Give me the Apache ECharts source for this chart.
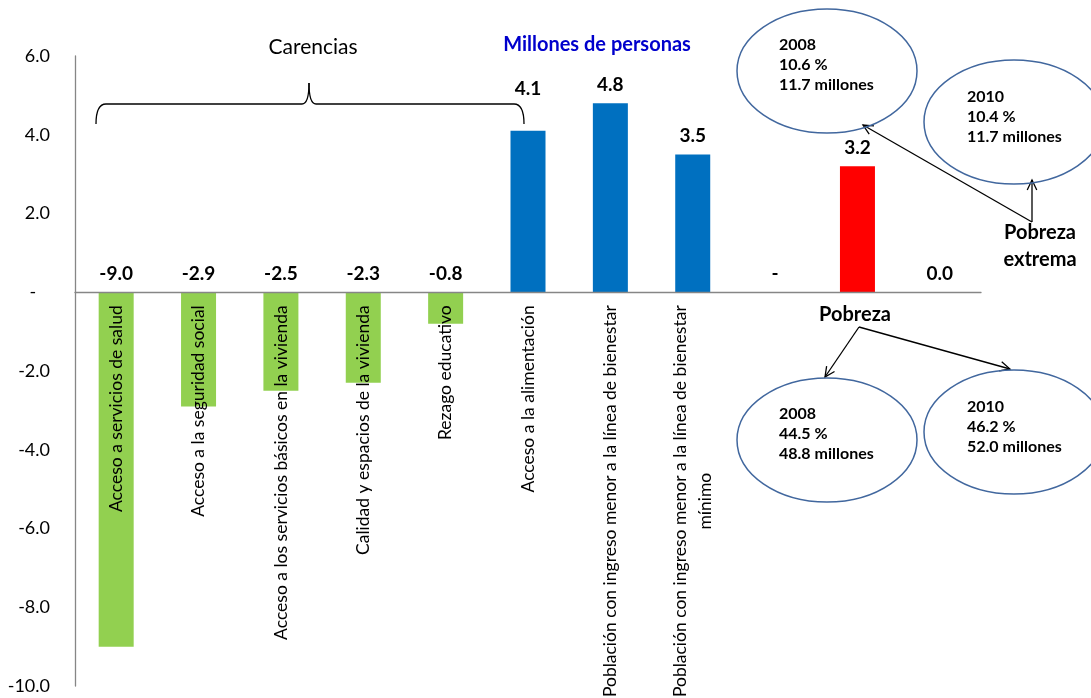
<!DOCTYPE html>
<html><head><meta charset="utf-8">
<script src="https://cdn.jsdelivr.net/npm/echarts@6/dist/echarts.min.js"></script>
<style>html,body{margin:0;padding:0;background:#fff}#c{width:1091px;height:698px}</style>
</head><body><div id="c"></div>
<script>
// ---- data ----
const categories = [
  'Acceso a servicios de salud',
  'Acceso a la seguridad social',
  'Acceso a los servicios básicos en la vivienda',
  'Calidad y espacios de la vivienda',
  'Rezago educativo',
  'Acceso a la alimentación',
  'Población con ingreso menor a la línea de bienestar',
  'Población con ingreso menor a la línea de bienestar\nmínimo',
  '',
  '',
  ''
];
const values = [-9.0, -2.9, -2.5, -2.3, -0.8, 4.1, 4.8, 3.5, null, 3.2, 0.0];
const groups = ['carencia','carencia','carencia','carencia','carencia','ingreso','ingreso','ingreso','blank','pobreza','extrema'];
const yMin = -10, yMax = 6, yStep = 2;

// ---- styles ----
const groupColors = { carencia: '#92D050', ingreso: '#0070C0', blank: '#0070C0', pobreza: '#FF0000', extrema: '#FF0000' };
const FONT = 'Lato';

const chart = echarts.init(document.getElementById('c'), null, { renderer: 'canvas' });

const lineStyle = { stroke: '#000', lineWidth: 1.3, fill: null };
function arrow(x1, y1, x2, y2) {
  const ang = Math.atan2(y2 - y1, x2 - x1);
  const L = 11, a = Math.PI / 7;
  const p1 = [x2 - L * Math.cos(ang - a), y2 - L * Math.sin(ang - a)];
  const p2 = [x2 - L * Math.cos(ang + a), y2 - L * Math.sin(ang + a)];
  return [
    { type: 'line', shape: { x1, y1, x2, y2 }, style: lineStyle },
    { type: 'polyline', shape: { points: [p1, [x2, y2], p2] }, style: lineStyle }
  ];
}
function cubic(x1, y1, c1x, c1y, c2x, c2y, x2, y2, style) {
  return { type: 'bezierCurve', z: 10, shape: { x1, y1, cpx1: c1x, cpy1: c1y, cpx2: c2x, cpy2: c2y, x2, y2 }, style };
}
function quad(x1, y1, cx, cy, x2, y2, style) {
  return { type: 'bezierCurve', z: 10, shape: { x1, y1, cpx1: cx, cpy1: cy, x2, y2 }, style };
}
const ellStyle = { stroke: '#41679E', lineWidth: 1.5, fill: null };
function ellipse(cx, cy, rx, ry) {
  const k = 0.5523;
  return [
    cubic(cx - rx, cy, cx - rx, cy - k * ry, cx - k * rx, cy - ry, cx, cy - ry, ellStyle),
    cubic(cx, cy - ry, cx + k * rx, cy - ry, cx + rx, cy - k * ry, cx + rx, cy, ellStyle),
    cubic(cx + rx, cy, cx + rx, cy + k * ry, cx + k * rx, cy + ry, cx, cy + ry, ellStyle),
    cubic(cx, cy + ry, cx - k * rx, cy + ry, cx - rx, cy + k * ry, cx - rx, cy, ellStyle)
  ];
}
function brace(xl, xm, xr, yEnd, yBar, yTip) {
  return [
    quad(xl, yEnd, xl, yBar, xl + 10, yBar, lineStyle),
    { type: 'line', shape: { x1: xl + 10, y1: yBar, x2: xm - 7, y2: yBar }, style: lineStyle },
    quad(xm - 7, yBar, xm, yBar, xm, yTip, lineStyle),
    quad(xm, yTip, xm, yBar, xm + 7, yBar, lineStyle),
    { type: 'line', shape: { x1: xm + 7, y1: yBar, x2: xr - 10, y2: yBar }, style: lineStyle },
    quad(xr - 10, yBar, xr, yBar, xr, yEnd, lineStyle)
  ];
}
function txt(x, y, text, opts) {
  return { type: 'text', x, y, z: 11, style: Object.assign({ text, fill: '#000', font: 'bold 16px ' + FONT, textVerticalAlign: 'middle' }, opts || {}) };
}
function ellText(x, y, lines) {
  return lines.map((l, i) => txt(x, y + i * 20, l));
}

const barData = values.map((v, i) => {
  const item = { value: v === null ? 0 : v, itemStyle: { color: groupColors[groups[i]] } };
  if (i === 5) item.label = { offset: [0, -23] };
  return item;
});

const graphics = [].concat(
  [
    txt(313, 47, 'Carencias', { font: '21px ' + FONT, textAlign: 'center' }),
    txt(597, 45, 'Millones de personas', { font: 'bold 20px ' + FONT, textAlign: 'center', fill: '#0000CC' }),
    txt(1040, 233, 'Pobreza', { font: 'bold 20px ' + FONT, textAlign: 'center' }),
    txt(1040, 260, 'extrema', { font: 'bold 20px ' + FONT, textAlign: 'center' }),
    txt(855, 315, 'Pobreza', { font: 'bold 20px ' + FONT, textAlign: 'center' })
  ],
  brace(96, 309, 524, 124, 104, 83),
  ellipse(827, 71, 90, 62),
  ellipse(1014, 122, 90, 62),
  ellipse(827, 440, 90, 62),
  ellipse(1014, 432, 90, 62),
  ellText(779, 45, ['2008', '10.6 %', '11.7 millones']),
  ellText(967, 97, ['2010', '10.4 %', '11.7 millones']),
  ellText(779, 414, ['2008', '44.5 %', '48.8 millones']),
  ellText(967, 407, ['2010', '46.2 %', '52.0 millones']),
  arrow(1032, 222, 863, 125),
  arrow(1032, 222, 1032, 180),
  arrow(859, 327, 825, 377),
  arrow(859, 327, 1010, 369)
);

const option = {
  animation: false,
  backgroundColor: '#fff',
  grid: { left: 75, right: 110, top: 56, bottom: 12, containLabel: false, outerBoundsMode: 'none' },
  xAxis: {
    type: 'category',
    data: categories,
    offset: 0,
    z: 10,
    axisLine: { onZero: false, lineStyle: { color: '#868686', width: 1.3 } },
    axisTick: { show: false },
    axisLabel: {
      interval: 0, rotate: 90, margin: 13, hideOverlap: false,
      formatter: (v) => v.split('\n').map((l, i) => (i === 0 ? '{n|' : '{c|') + l + '}').join('\n'),
      rich: {
        n: { fontFamily: FONT, fontSize: 17.5, color: '#000', lineHeight: 25 },
        c: { fontFamily: FONT, fontSize: 17.5, color: '#000', lineHeight: 25, align: 'center' }
      }
    },
    splitLine: { show: false }
  },
  yAxis: {
    type: 'value', min: yMin, max: yMax, interval: yStep,
    axisLine: { show: true, lineStyle: { color: '#868686', width: 1.3 } },
    axisTick: { show: false },
    splitLine: { show: false },
    axisLabel: {
      margin: 25, color: '#000', fontFamily: FONT, fontSize: 18,
      formatter: (v) => v === 0 ? '-   ' : v.toFixed(1)
    }
  },
  series: [{
    type: 'bar',
    data: barData,
    barWidth: 35,
    label: {
      show: true, position: 'top', distance: 9,
      fontFamily: FONT, fontWeight: 'bold', fontSize: 19, color: '#000',
      formatter: (p) => values[p.dataIndex] === null ? '-' : values[p.dataIndex].toFixed(1)
    }
  }],
  graphic: graphics
};
chart.setOption(option);
// place the category axis (line + labels) on the zero value, using the value scale
const zeroPx = chart.convertToPixel({ yAxisIndex: 0 }, 0);
const bottomPx = chart.convertToPixel({ yAxisIndex: 0 }, yMin);
chart.setOption({ xAxis: { offset: -(bottomPx - zeroPx) } });
</script>
</body></html>
